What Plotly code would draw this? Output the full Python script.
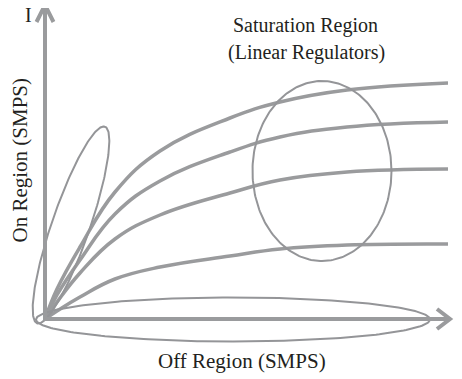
import numpy as np
import plotly.graph_objects as go

# ---- data (diagram units; origin at V=0, I=0) ----
v_points = [0, 12, 35, 70, 115, 185, 235, 302, 403]
curve_1 = [0, 30, 72, 127, 168, 201, 217, 229, 236]
curve_2 = [0, 24, 59, 105, 138, 167, 182, 192, 197]
curve_3 = [0, 17, 46, 80, 104, 126, 139, 147, 150]
curve_4 = [0, 8, 22, 40, 52, 63, 70, 74, 75]
curves = [curve_1, curve_2, curve_3, curve_4]

# region ellipses: (center_v, center_i, semi_major, semi_minor, tilt_deg_from_vertical)
on_region = (26, 94, 104, 19, 19)
sat_region = (277, 148, 90, 69.5, 0)
off_region = (188, -0.5, 197, 22, 90)

# axes arrows
i_axis_len = 314
v_axis_len = 405

LINE = "#9a9b9d"
TEXT = "#231f20"
FONT = "Liberation Serif"

fig = go.Figure()

def ellipse(cx, cy, a, b, tilt):
    t = np.linspace(0, 2 * np.pi, 241)
    th = np.deg2rad(tilt)
    u = b * np.cos(t)
    w = a * np.sin(t)
    x = cx + u * np.cos(th) + w * np.sin(th)
    y = cy - u * np.sin(th) + w * np.cos(th)
    return x, y

for c in curves:
    fig.add_trace(go.Scatter(x=v_points, y=c, mode="lines",
                             line=dict(color=LINE, width=3.5, shape="spline", smoothing=1.2),
                             hoverinfo="skip", showlegend=False))

for e in (on_region, sat_region, off_region):
    ex, ey = ellipse(*e)
    fig.add_trace(go.Scatter(x=ex, y=ey, mode="lines",
                             line=dict(color="#949598", width=2),
                             hoverinfo="skip", showlegend=False))

# axes
fig.add_trace(go.Scatter(x=[0, 0, None, -8.5, 0, 8.5], y=[-2, i_axis_len, None, i_axis_len - 17, i_axis_len, i_axis_len - 17],
                         mode="lines", line=dict(color=LINE, width=4), hoverinfo="skip", showlegend=False))
fig.add_trace(go.Scatter(x=[-2, v_axis_len, None, v_axis_len - 13, v_axis_len, v_axis_len - 13], y=[0, 0, None, 10, 0, -10],
                         mode="lines", line=dict(color=LINE, width=4), hoverinfo="skip", showlegend=False))

f = dict(family=FONT, size=20, color=TEXT)
f2 = dict(family=FONT, size=21, color=TEXT)
ann = [
    dict(x=260, y=294, text="Saturation Region"),
    dict(x=261, y=267, text="(Linear Regulators)"),
    dict(x=197, y=-42, text="Off Region (SMPS)", font=f2),
    dict(x=-26, y=158.5, text="On Region (SMPS)", textangle=-90, font=f2),
    dict(x=-17, y=304.5, text="I"),
    dict(x=408, y=-2, text="V", xanchor="left"),
]
for a in ann:
    base = dict(xref="x", yref="y", showarrow=False, font=f, xanchor="center", yanchor="middle")
    base.update(a)
    fig.add_annotation(**base)

# page body has an 8px default margin; size/range compensate for it
fig.update_layout(
    width=454, height=371,
    margin=dict(l=0, r=0, t=0, b=0),
    paper_bgcolor="white", plot_bgcolor="white",
    xaxis=dict(range=[-37, 417], visible=False, fixedrange=True),
    yaxis=dict(range=[-60, 311], visible=False, fixedrange=True),
)

fig.write_html("out.html")
